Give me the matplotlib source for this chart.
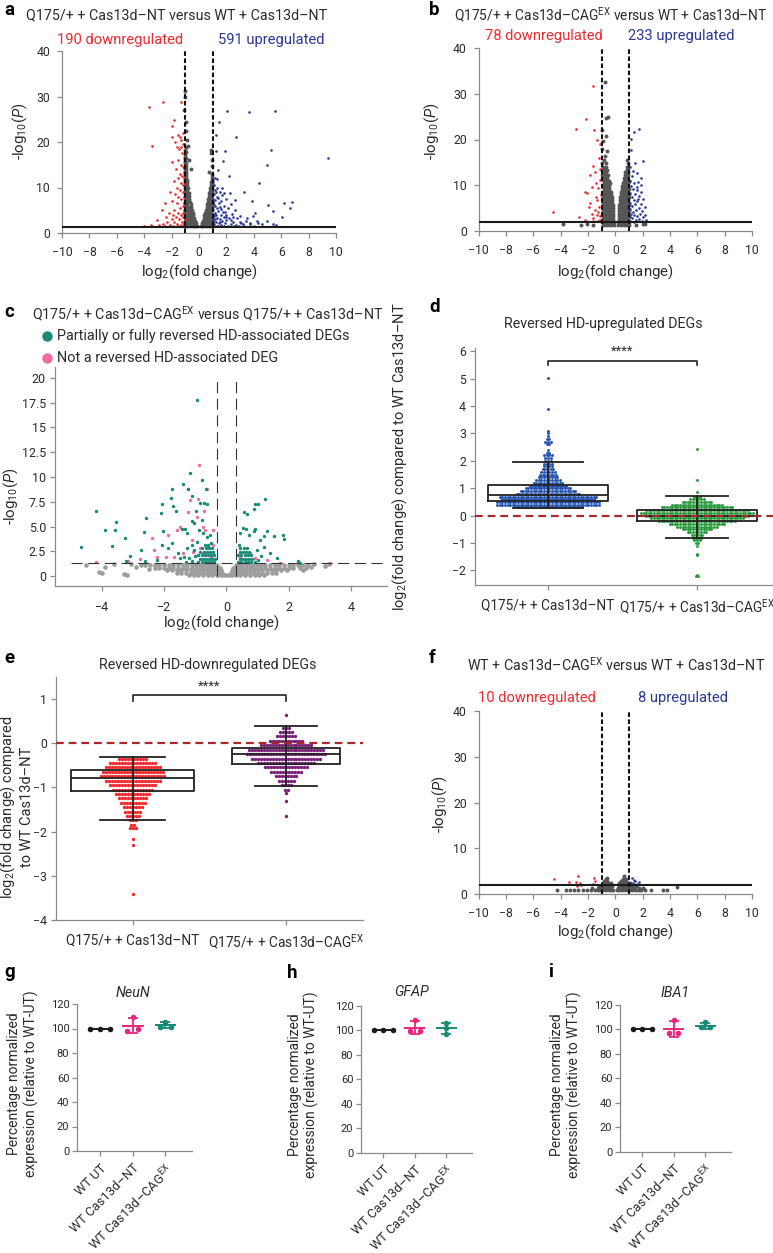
import numpy as np
import matplotlib
matplotlib.use('Agg')
import matplotlib.pyplot as plt
from matplotlib.lines import Line2D

plt.rcParams['font.family'] = ['Roboto', 'DejaVu Sans']
plt.rcParams['mathtext.fontset'] = 'custom'
plt.rcParams['mathtext.rm'] = 'Roboto'
plt.rcParams['mathtext.it'] = 'Roboto:italic'
plt.rcParams['mathtext.bf'] = 'Roboto:bold'

# ---------------- data ----------------
# panel a: Q175/+ NT vs WT NT  (x = log2 FC, y = -log10 P)
down_a = [(-3.62, 27.7), (-2.62, 28.7), (-3.42, 19.2), (-1.35, 28.7), (-1.84, 24.9), (-1.99, 23.5),
          (-2.0, 21.1), (-1.5, 21.5), (-1.3, 20.5), (-1.2, 22.0), (-1.75, 20.0), (-1.6, 19.0),
          (-1.45, 18.5), (-1.25, 17.5), (-1.15, 19.5), (-1.94, 15.6), (-1.55, 16.0), (-1.35, 15.0),
          (-1.2, 14.5), (-1.1, 16.5), (-1.7, 14.0), (-1.4, 13.0), (-1.25, 12.5), (-1.12, 13.5),
          (-1.5, 12.0), (-1.85, 11.5), (-1.3, 11.0), (-1.15, 10.5), (-1.6, 10.0), (-1.4, 9.5),
          (-1.2, 9.0), (-2.1, 9.0), (-1.75, 8.5), (-1.5, 8.0), (-1.1, 8.0), (-1.3, 7.5), (-1.95, 7.0),
          (-2.5, 6.5), (-1.6, 6.5), (-1.2, 6.0), (-1.4, 5.5), (-2.67, 5.0), (-1.8, 5.0), (-1.1, 5.0),
          (-2.2, 4.5), (-1.5, 4.5), (-1.3, 4.0), (-1.9, 4.0), (-1.15, 3.5), (-2.4, 3.5), (-1.65, 3.5),
          (-3.1, 2.9), (-2.0, 3.0), (-1.45, 3.0), (-1.25, 2.5), (-2.3, 2.5), (-1.8, 2.5), (-3.47, 1.8),
          (-4.03, 1.6), (-2.9, 1.8), (-2.6, 2.0), (-2.1, 1.8), (-1.6, 2.0), (-1.35, 1.8), (-1.1, 2.0),
          (-1.9, 1.6), (-1.5, 1.5), (-2.5, 1.5), (-1.2, 1.5), (-1.05, 3.0), (-1.08, 6.5), (-1.05, 11.0),
          (-1.1, 12.0), (-1.3, 19.0), (-1.4, 21.0), (-1.18, 4.5)]
up_a = [(2.01, 26.8), (3.64, 26.5), (5.57, 26.8), (1.45, 24.3), (1.23, 21.6), (2.69, 21.1), (5.23, 18.2),
        (1.89, 18.1), (1.21, 18.0), (9.44, 16.5), (4.93, 14.9), (1.72, 15.8), (1.38, 13.8), (2.16, 12.5),
        (4.4, 11.0), (3.3, 9.0), (3.84, 7.1), (6.22, 6.7), (6.78, 6.9), (6.64, 5.6), (5.0, 6.2),
        (5.37, 4.75), (6.03, 3.5), (4.97, 2.6), (5.4, 2.0), (5.6, 1.7), (4.2, 2.7), (3.95, 3.7),
        (3.7, 2.2), (3.5, 3.2), (3.2, 2.0), (1.1, 10.5), (1.3, 10.0), (1.2, 9.5), (1.5, 9.0), (1.1, 8.5),
        (1.7, 8.3), (1.35, 8.0), (2.0, 7.5), (1.2, 7.2), (1.6, 7.0), (1.05, 6.8), (1.45, 6.5), (2.3, 6.3),
        (1.8, 6.0), (1.15, 6.0), (1.3, 5.6), (2.1, 5.5), (1.6, 5.2), (1.05, 5.0), (2.6, 5.0), (1.4, 4.8),
        (1.9, 4.6), (1.2, 4.4), (2.4, 4.2), (1.6, 4.0), (1.1, 3.8), (3.0, 3.8), (1.8, 3.6), (1.35, 3.4),
        (2.2, 3.3), (2.8, 3.2), (1.5, 3.0), (1.05, 2.9), (2.0, 2.8), (3.4, 2.7), (1.7, 2.6), (1.25, 2.5),
        (2.5, 2.4), (1.9, 2.2), (1.45, 2.1), (3.1, 2.1), (1.1, 2.0), (2.3, 1.9), (3.7, 1.9), (1.6, 1.8),
        (2.7, 1.7), (1.3, 1.6), (2.1, 1.6), (4.0, 1.6), (1.8, 1.5), (2.9, 1.5), (4.3, 2.2), (4.1, 4.4),
        (4.6, 2.0), (1.4, 7.6), (1.25, 9.0), (1.7, 10.0), (1.2, 3.1), (1.55, 5.8), (2.0, 4.0),
        (1.15, 12.0), (1.05, 11.2), (1.3, 11.8), (2.25, 8.8), (2.6, 7.2), (2.45, 3.6), (1.75, 4.6),
        (1.0, 4.2), (1.0, 7.5), (1.4, 1.5), (2.55, 1.5), (1.95, 3.5), (2.35, 2.8), (1.55, 2.4),
        (1.25, 4.0), (1.85, 8.9), (3.3, 1.6), (3.0, 2.5)]
# non-significant genes, one row per -log10 P level
ns_a_rows = [(1.5, [-1.05, -0.85, -0.65, -0.45, -0.28, -0.15, 0.15, 0.3, 0.5, 0.7, 0.88, 1.0]),
             (2.1, [-1.0, -0.8, -0.6, -0.4, -0.22, 0.22, 0.4, 0.6, 0.8, 0.97]),
             (2.7, [-1.05, -0.85, -0.65, -0.45, -0.28, 0.28, 0.45, 0.65, 0.85, 1.0]),
             (3.3, [-1.0, -0.8, -0.6, -0.35, 0.35, 0.55, 0.75, 0.95]),
             (3.9, [-1.05, -0.85, -0.65, -0.42, 0.4, 0.6, 0.8, 1.0]),
             (4.5, [-1.0, -0.8, -0.6, -0.45, 0.45, 0.65, 0.85]),
             (5.1, [-1.05, -0.85, -0.65, -0.5, 0.5, 0.7, 0.9]),
             (5.7, [-1.0, -0.8, -0.58, 0.55, 0.75, 0.95]),
             (6.3, [-1.05, -0.85, -0.62, 0.6, 0.8, 1.0]),
             (6.9, [-1.0, -0.8, -0.66, 0.65, 0.85]),
             (7.5, [-1.05, -0.85, -0.7, 0.68, 0.88]),
             (8.1, [-1.0, -0.85, -0.72, 0.72, 0.9]),
             (8.7, [-1.05, -0.9, -0.76, 0.75, 0.95]),
             (9.3, [-1.0, -0.85, 0.78, 0.95]),
             (9.9, [-1.05, -0.9, -0.8, 0.82, 0.97]),
             (10.5, [-1.0, -0.85, 0.85, 0.98]),
             (11.1, [-1.05, -0.9, 0.88]),
             (11.7, [-1.0, -0.88, 0.92]),
             (12.3, [-1.05, -0.92, 0.95]),
             (12.9, [-1.0, -0.93, 0.93]),
             (13.5, [-1.02, -0.95]),
             (14.1, [-1.0, -0.95]),
             (14.7, [-0.98]),
             (15.3, [-1.02, -0.95]),
             (15.9, [-1.0]),
             (16.5, [-0.97]),
             (17.1, [-1.0]),
             (17.7, [-0.98]),
             (18.3, [-1.02]),
             (19.0, [-0.96])]
ns_a_extra = [(-0.99, 31.2), (-1.04, 29.9), (-1.06, 27.0), (-0.95, 24.5), (-0.92, 22.5), (-0.88, 20.5),
              (-0.8, 19.2), (-0.72, 16.0), (-0.6, 14.0), (0.84, 17.5), (0.9, 18.2), (0.95, 16.0),
              (0.7, 13.5), (0.98, 14.8)]

# panel b: Q175/+ CAG-EX vs WT NT
down_b = [(-1.66, 31.8), (-2.17, 24.5), (-2.9, 22.3), (-1.56, 22.0), (-1.32, 19.8), (-1.12, 19.0),
          (-1.66, 14.3), (-1.49, 12.8), (-1.85, 12.3), (-2.1, 8.2), (-2.2, 8.6), (-1.73, 9.7),
          (-1.85, 6.1), (-1.32, 6.8), (-1.17, 5.3), (-1.49, 4.6), (-4.54, 4.1), (-2.66, 3.0),
          (-2.22, 2.4), (-1.61, 2.8), (-1.32, 3.5), (-1.12, 11.2), (-1.24, 9.3), (-1.41, 7.5),
          (-1.1, 2.4), (-1.6, 2.1), (-1.25, 4.2), (-1.05, 7.8), (-1.15, 13.5), (-1.4, 10.5),
          (-1.95, 5.2), (-1.3, 2.2), (-1.1, 3.3), (-1.7, 3.8), (-1.2, 16.0)]
up_b = [(1.71, 22.3), (1.34, 21.6), (1.12, 20.1), (1.17, 17.7), (2.0, 15.2), (1.44, 14.8), (1.1, 14.0),
        (1.3, 13.2), (1.56, 12.6), (1.2, 12.0), (1.85, 10.1), (1.05, 11.0), (1.4, 10.5), (1.65, 10.8),
        (1.15, 9.8), (1.3, 9.2), (1.6, 9.0), (1.9, 8.6), (1.05, 8.4), (1.45, 8.0), (1.75, 7.6),
        (1.2, 7.4), (2.05, 7.0), (1.35, 6.8), (1.6, 6.5), (1.1, 6.2), (1.85, 6.0), (1.45, 5.8),
        (1.25, 5.4), (2.15, 5.2), (1.7, 5.0), (1.05, 4.8), (1.5, 4.6), (1.95, 4.4), (1.3, 4.2),
        (1.15, 3.8), (1.8, 3.8), (2.2, 3.6), (1.4, 3.4), (1.6, 3.2), (1.05, 3.0), (2.0, 3.0),
        (1.25, 2.8), (1.75, 2.6), (1.5, 2.4), (1.1, 2.2), (1.95, 2.2), (1.35, 2.0), (2.25, 2.5),
        (1.65, 7.0), (1.0, 5.6), (1.55, 9.6), (1.9, 11.5)]
ns_b_rows = [(1.4, [-0.9, -0.7, -0.5, -0.3, -0.12, 0.22, 0.4, 0.6, 0.8, 1.0]),
             (2.0, [-0.88, -0.68, -0.48, -0.28, -0.13, 0.23, 0.42, 0.62, 0.82, 1.0]),
             (2.6, [-0.9, -0.7, -0.5, -0.3, -0.14, 0.24, 0.44, 0.64, 0.84]),
             (3.2, [-0.88, -0.68, -0.48, -0.28, -0.15, 0.25, 0.45, 0.65, 0.85, 1.0]),
             (3.8, [-0.9, -0.7, -0.5, -0.3, -0.16, 0.26, 0.46, 0.66, 0.86]),
             (4.4, [-0.88, -0.68, -0.48, -0.28, -0.17, 0.27, 0.47, 0.67, 0.87, 1.0]),
             (5.0, [-0.9, -0.7, -0.5, -0.3, -0.18, 0.28, 0.48, 0.68, 0.88]),
             (5.6, [-0.88, -0.68, -0.48, -0.28, -0.2, 0.3, 0.5, 0.7, 0.9, 1.0]),
             (6.2, [-0.9, -0.7, -0.5, -0.3, -0.21, 0.32, 0.52, 0.72, 0.92]),
             (6.8, [-0.86, -0.66, -0.46, -0.25, 0.34, 0.54, 0.74, 0.94]),
             (7.4, [-0.88, -0.68, -0.48, -0.28, 0.37, 0.57, 0.77, 0.97]),
             (8.0, [-0.86, -0.66, -0.46, -0.3, 0.4, 0.6, 0.8, 1.0]),
             (8.6, [-0.88, -0.68, -0.48, -0.32, 0.43, 0.63, 0.83]),
             (9.2, [-0.85, -0.65, -0.45, 0.46, 0.66, 0.86, 1.0]),
             (9.8, [-0.87, -0.67, -0.47, 0.5, 0.7, 0.9]),
             (10.4, [-0.84, -0.64, -0.42, 0.55, 0.75, 0.95]),
             (11.0, [-0.86, -0.66, -0.45, 0.6, 0.8, 1.0]),
             (11.6, [-0.8, -0.6, 0.65, 0.85]),
             (12.2, [-0.95, -0.75, -0.55, 0.7, 0.9]),
             (12.8, [-0.9, -0.7, 0.8, 0.95]),
             (13.4, [-0.95, -0.75, -0.6, 0.85]),
             (14.0, [-0.9, -0.7, 0.88]),
             (14.8, [-0.95, -0.72, 0.9]),
             (15.5, [-0.8])]
ns_b_extra = [(-0.77, 32.5), (-0.52, 25.0), (-0.65, 24.7), (-0.96, 22.0), (-0.7, 20.7), (-0.89, 19.6),
              (-0.77, 16.3), (-0.6, 17.5), (0.87, 15.5), (0.7, 13.0), (-3.8, 1.5), (-2.5, 1.3),
              (-2.1, 1.5), (-1.6, 1.4), (1.5, 1.4), (2.0, 1.6), (2.2, 1.5), (-0.95, 18.0), (0.95, 13.8)]

# panel c: Q175/+ CAG-EX vs Q175/+ NT
rev_c = [(-4.66, 2.96), (-4.19, 6.59), (-3.89, 4.64), (-3.57, 4.64), (-3.54, 5.48), (-3.66, 3.06),
         (-3.25, 3.87), (-3.09, 2.02), (-3.22, 1.55), (-2.59, 5.82), (-2.66, 4.47), (-2.74, 2.62),
         (-2.61, 1.55), (-2.24, 1.61), (-2.07, 7.26), (-2.10, 6.39), (-2.02, 4.57), (-2.07, 3.13),
         (-1.86, 2.79), (-1.75, 3.36), (-1.78, 7.90), (-1.75, 8.74), (-1.70, 7.06), (-1.63, 6.55),
         (-1.40, 9.34), (-1.17, 10.42), (-1.22, 8.74), (-1.09, 8.10), (-0.97, 6.59), (-0.80, 9.68),
         (-0.65, 8.74), (-0.95, 17.82), (-0.84, 7.33), (-0.72, 7.33), (-0.61, 7.26), (-1.43, 4.71),
         (-1.33, 4.77), (-1.27, 4.30), (-1.11, 5.58), (-1.03, 5.31), (-0.89, 4.64), (-0.79, 5.65),
         (-0.74, 4.30), (-0.63, 3.97), (-0.52, 4.13), (-1.54, 2.29), (-1.27, 2.79), (-1.11, 3.13),
         (-0.95, 3.46), (-1.49, 1.78), (-1.36, 1.95),
         (-0.9, 1.4), (-0.8, 1.4), (-0.7, 1.4), (-0.6, 1.4), (-0.5, 1.4), (-0.4, 1.4),
         (-0.85, 1.75), (-0.75, 1.75), (-0.65, 1.75), (-0.55, 1.75), (-0.45, 1.75), (-0.37, 1.75),
         (-0.9, 2.1), (-0.8, 2.1), (-0.7, 2.1), (-0.6, 2.1), (-0.5, 2.1), (-0.4, 2.1),
         (-0.85, 2.45), (-0.72, 2.45), (-0.62, 2.45), (-0.52, 2.45), (-0.42, 2.45),
         (-0.78, 2.8), (-0.66, 2.8), (-0.55, 2.8), (-0.45, 2.8), (-0.7, 3.15), (-0.58, 3.15),
         (-0.48, 3.3), (-1.1, 1.5), (-1.2, 1.8), (-1.0, 2.0), (-1.3, 1.45), (-1.05, 2.6),
         (0.38, 1.4), (0.48, 1.4), (0.58, 1.4), (0.68, 1.4), (0.78, 1.4), (0.9, 1.45),
         (0.42, 1.75), (0.52, 1.75), (0.62, 1.75), (0.72, 1.75), (0.82, 1.75),
         (0.38, 2.1), (0.48, 2.1), (0.58, 2.1), (0.68, 2.1), (0.8, 2.1),
         (0.42, 2.45), (0.52, 2.45), (0.62, 2.45), (0.72, 2.45), (0.45, 2.8), (0.56, 2.8),
         (0.66, 2.8), (0.4, 3.1), (1.0, 1.6), (1.1, 2.0),
         (1.24, 7.76), (0.92, 7.26), (1.01, 7.26), (0.87, 6.72), (0.57, 6.42), (0.67, 6.25),
         (0.52, 4.87), (0.63, 4.77), (0.87, 4.54), (0.93, 4.71), (1.29, 4.54), (1.19, 4.07),
         (1.51, 4.07), (1.81, 4.13), (1.85, 3.70), (1.19, 2.89), (2.29, 1.55), (2.36, 1.28),
         (1.08, 3.63), (0.71, 4.13), (0.44, 4.30), (1.61, 1.78), (1.40, 2.29), (0.97, 2.62)]
notrev_c = [(-0.87, 11.19), (-0.90, 7.73), (-0.63, 8.81), (-1.24, 8.74), (-0.72, 6.55), (-1.22, 6.49),
            (-0.74, 4.91), (-0.68, 4.64), (-1.49, 4.97), (-1.59, 4.64), (-2.40, 3.80), (-2.34, 2.62),
            (-2.24, 1.95), (-1.95, 1.88), (-1.68, 1.88), (-2.77, 1.68), (-3.17, 1.55), (-4.19, 1.45),
            (1.72, 1.28), (3.33, 1.28), (-0.84, 2.79), (-0.58, 2.96), (-0.42, 3.13), (-0.74, 2.29),
            (-1.06, 2.45), (-0.49, 1.95), (-1.11, 3.63), (0.76, 2.29), (0.92, 1.78), (1.29, 1.61),
            (0.44, 1.95), (-1.86, 4.13), (-1.17, 7.66), (-0.95, 5.98), (-0.42, 4.64), (-1.4, 2.3)]
ns_c_rows = [(0.08, [-1.2, -1.05, -0.9, -0.75, -0.6, -0.45, -0.3, -0.18, -0.08, 0.0, 0.08, 0.18, 0.3,
                     0.45, 0.6, 0.75, 0.9, 1.05, 1.2]),
             (0.35, [-1.6, -1.45, -1.3, -1.15, -1.0, -0.88, -0.76, -0.64, -0.52, -0.4, -0.28, -0.14,
                     0.14, 0.28, 0.4, 0.52, 0.64, 0.76, 0.88, 1.0, 1.15, 1.3, 1.45, 1.6]),
             (0.6, [-1.9, -1.75, -1.6, -1.45, -1.3, -1.15, -1.0, -0.88, -0.76, -0.64, -0.52, -0.4,
                    -0.28, -0.18, 0.18, 0.28, 0.4, 0.52, 0.64, 0.76, 0.88, 1.0, 1.15, 1.3, 1.45,
                    1.6, 1.75, 1.95]),
             (0.85, [-2.3, -2.15, -2.0, -1.85, -1.7, -1.55, -1.4, -1.25, -1.1, -0.98, -0.86, -0.74,
                     -0.62, -0.5, -0.4, -0.3, -0.22, 0.22, 0.3, 0.4, 0.5, 0.62, 0.74, 0.86, 0.98,
                     1.1, 1.25, 1.4, 1.55, 1.7, 1.85, 2.0, 2.15, 2.35]),
             (1.1, [-2.6, -2.45, -2.3, -2.15, -2.0, -1.85, -1.7, -1.55, -1.4, -1.25, -1.1, -0.98,
                    -0.86, -0.74, -0.62, -0.5, -0.4, -0.3, 0.3, 0.4, 0.5, 0.62, 0.74, 0.86, 0.98,
                    1.1, 1.25, 1.4, 1.55, 1.7, 1.85, 2.0, 2.15, 2.3, 2.45, 2.6])]
ns_c_extra = [(-4.5, 1.15), (-4.1, 0.4), (-4.0, 0.3), (-3.9, 0.9), (-3.3, 0.25), (-3.2, 0.15),
              (-3.05, 1.2), (-2.9, 0.9), (-2.75, 1.15), (-2.5, 0.7), (2.45, 0.6), (2.55, 0.8),
              (2.7, 0.95), (2.8, 1.2), (3.15, 1.0), (3.3, 1.2), (-3.6, 1.2)]

# panel d: reversed HD-upregulated DEGs (log2 FC levels and number of genes at each level)
d_nt_levels = [0.3, 0.4, 0.5, 0.6, 0.7, 0.8, 0.9, 1.0, 1.1, 1.2, 1.3, 1.4, 1.5, 1.6, 1.7, 1.8, 1.9,
               2.0, 2.1, 2.2, 2.3, 2.4, 2.6, 2.7, 2.8, 2.9, 3.0, 3.1, 3.9, 5.02]
d_nt_counts = [27, 40, 40, 36, 38, 25, 22, 18, 15, 12, 10, 8, 7, 6, 5, 4, 4, 3, 3, 4, 2, 1, 2, 3,
               2, 1, 1, 1, 1, 1]
d_ex_levels = [2.42, 1.3, 0.87, 0.7, 0.6, 0.5, 0.4, 0.3, 0.2, 0.1, 0.0, -0.1, -0.2, -0.3, -0.4,
               -0.5, -0.6, -0.7, -0.8, -0.9, -1.0, -1.1, -1.4, -1.45, -2.15, -2.2]
d_ex_counts = [1, 1, 1, 3, 6, 12, 20, 28, 40, 44, 40, 36, 30, 22, 16, 12, 8, 5, 4, 3, 2, 1, 1, 1, 1, 2]
d_box = dict(q1=[0.53, -0.20], med=[0.75, -0.01], q3=[1.12, 0.20], lo=[0.27, -0.82], hi=[1.96, 0.72])

# panel e: reversed HD-downregulated DEGs
e_nt_levels = [-0.35, -0.45, -0.55, -0.65, -0.75, -0.85, -0.95, -1.05, -1.15, -1.25, -1.35, -1.45,
               -1.55, -1.65, -1.75, -1.85, -1.93, -2.18, -2.3, -3.42]
e_nt_counts = [10, 16, 19, 21, 22, 19, 16, 14, 12, 10, 9, 7, 6, 5, 3, 2, 3, 1, 1, 1]
e_ex_levels = [0.63, 0.35, 0.25, 0.15, 0.05, -0.05, -0.15, -0.25, -0.35, -0.45, -0.55, -0.65,
               -0.75, -0.85, -0.95, -1.05, -1.12, -1.3, -1.65]
e_ex_counts = [1, 3, 5, 7, 12, 18, 26, 27, 24, 20, 15, 11, 8, 6, 4, 2, 1, 1, 1]
e_box = dict(q1=[-1.09, -0.466], med=[-0.80, -0.24], q3=[-0.62, -0.105], lo=[-1.73, -0.97], hi=[-0.32, 0.38])

# panel f: WT CAG-EX vs WT NT
down_f = [(-4.49, 3.42), (-3.40, 2.62), (-2.72, 4.07), (-2.89, 2.76), (-2.6, 2.55), (-2.55, 2.04),
          (-1.57, 3.64), (-1.5, 2.98), (-1.62, 2.25), (-2.79, 1.82)]
up_f = [(1.25, 3.49), (1.42, 2.98), (1.74, 2.76), (1.55, 2.25), (1.3, 2.55), (1.1, 2.4), (1.6, 2.1),
        (1.35, 3.2)]
ns_f_rows = [(0.9, [-4.3, -3.6, -3.3, -3.0, -2.7, -2.4, -2.1, -1.8, -1.5, -1.3, -1.1, -0.9, -0.7, -0.5,
                    -0.3, -0.15, 0.15, 0.3, 0.5, 0.7, 0.9, 1.1, 1.3, 1.5, 1.7, 1.9, 2.2, 2.6, 3.5, 3.8]),
             (1.4, [-1.7, -1.3, -1.1, -0.9, -0.7, -0.5, -0.3, 0.2, 0.4, 0.6, 0.8, 1.0, 1.2, 1.4, 1.7, 2.0]),
             (1.9, [-1.2, -1.0, -0.8, -0.6, -0.4, -0.25, 0.25, 0.45, 0.65, 0.85, 1.05, 1.25, 1.5]),
             (2.4, [-0.9, -0.7, -0.5, -0.35, 0.3, 0.5, 0.7, 0.9, 1.1]),
             (2.9, [-0.8, -0.6, 0.4, 0.6, 0.8]),
             (3.4, [-0.65, 0.55, 0.75])]
ns_f_extra = [(4.5, 1.6), (-0.6, 3.6), (0.6, 3.9)]

# panels g-i: qPCR, percentage normalized expression
qpcr_groups = ['WT UT', 'WT Cas13d–NT', 'WT Cas13d–CAG$^{\\mathrm{EX}}$']
neun = [[100, 100, 100], [97.6, 109.0, 99.7], [101.6, 105.4, 101.6]]
gfap = [[100, 100, 100], [99.2, 108.0, 99.2], [97.2, 106.0, 101.7]]
iba1 = [[100, 100, 100], [96.7, 108.0, 96.7], [101.7, 105.8, 101.7]]

# ---------------- styling ----------------
RED = '#ee2a2e'
BLUE = '#2a3896'
GRAY_D = '#565656'
GRAY_L = '#9d9d9d'
TEAL = '#178a78'
PINK = '#ee6c9e'
BLUE_SW = '#2553b0'
GREEN_SW = '#2a9a3c'
PURPLE = '#7a2078'
DRED = '#a8282c'
PINK_G = '#e8257c'
AX_C = '#8a8a8a'
TXT = '#2b2b2b'
FS = 10.3      # titles / labels
FT = 8.8       # tick labels

W, H = 773, 1253
fig = plt.figure(figsize=(W / 100, H / 100), dpi=100)


def rect(l, t, r, b):
    return [l / W, 1 - b / H, (r - l) / W, (b - t) / H]


def ftext(px, py, s, **kw):
    kw.setdefault('va', 'center')
    kw.setdefault('color', TXT)
    fig.text(px / W, 1 - py / H, s, **kw)


def letter(px, py, s):
    ftext(px, py, s, fontsize=13.5, fontweight='bold', color='black')


def style(ax, xpad=7, ypad=4, fs=FT):
    for s in ['top', 'right']:
        ax.spines[s].set_visible(False)
    for s in ['left', 'bottom']:
        ax.spines[s].set_color(AX_C)
        ax.spines[s].set_linewidth(0.9)
    ax.tick_params(axis='both', colors=AX_C, labelcolor=TXT, labelsize=fs, length=3.5, width=0.9)
    ax.tick_params(axis='x', pad=xpad)
    ax.tick_params(axis='y', pad=ypad)


def labels(ax, xl, yl, xc, yc, fs=FS):
    if xl is not None:
        ax.set_xlabel(xl, fontsize=fs, color=TXT)
        ax.xaxis.set_label_coords(*xc)
        ax.xaxis.label.set_va('center')
    ax.set_ylabel(yl, fontsize=fs, color=TXT)
    ax.yaxis.set_label_coords(*yc)
    ax.yaxis.label.set_va('center')


def rows_to_xy(rows, extra):
    pts = [(x, y) for y, xs in rows for x in xs] + list(extra)
    return np.array(pts).T


def volcano(ax, ns_rows, ns_extra, down, up, thr):
    nx, ny = rows_to_xy(ns_rows, ns_extra)
    ax.scatter(nx, ny, s=8, color=GRAY_D, lw=0, zorder=2)
    dx, dy = np.array(down).T
    ax.scatter(dx, dy, s=3.5, color=RED, lw=0, zorder=3)
    ux, uy = np.array(up).T
    ax.scatter(ux, uy, s=3.5, color=BLUE, lw=0, zorder=3)
    ax.axhline(thr, color='#1a1a1a', lw=1.5, zorder=4)
    for v in (-1, 1):
        ax.axvline(v, color='#111111', lw=1.5, ls=(0, (2.2, 1.2)), zorder=4)
    ax.set_xlim(-10, 10)
    ax.set_ylim(0, 40)
    ax.set_xticks(range(-10, 11, 2))
    ax.set_yticks(range(0, 41, 10))
    style(ax, xpad=6, ypad=5)


def swarm(levels, counts, center, step):
    xs, ys = [], []
    for v, n in zip(levels, counts):
        off = (np.arange(n) - (n - 1) / 2) * step
        xs.extend(center + off)
        ys.extend([v] * n)
    return np.array(xs), np.array(ys)


def boxes(ax, box, widths, capwidths):
    stats = [dict(med=box['med'][i], q1=box['q1'][i], q3=box['q3'][i],
                  whislo=box['lo'][i], whishi=box['hi'][i]) for i in range(2)]
    lp = dict(color='#222222', lw=1.3)
    ax.bxp(stats, positions=[0, 1], widths=widths, capwidths=capwidths, showfliers=False,
           boxprops=lp, medianprops=lp, whiskerprops=lp, capprops=lp, manage_ticks=False, zorder=5)
    ax.vlines([0, 1], box['q1'], box['q3'], color='#222222', lw=1.3, zorder=5)
    ax.axhline(0, color=DRED, lw=1.6, ls=(0, (3.5, 2.2)), zorder=6)


def bracket(ax, y, ytick, ytxt):
    ax.plot([0, 0, 1, 1], [ytick, y, y, ytick], color='#222222', lw=1.2)
    ax.text(0.5, ytxt, '****', ha='center', va='center', fontsize=9.5, color=TXT)


VLAB = '-log$_{10}$($\\mathit{P}$)'
XLAB = 'log$_2$(fold change)'
CAG = 'Cas13d–CAG$^{\\mathrm{EX}}$'

# ---------------- panel a ----------------
ax_a = fig.add_axes(rect(62, 51, 336, 233))
volcano(ax_a, ns_a_rows, ns_a_extra, down_a, up_a, 1.3)
labels(ax_a, XLAB, VLAB, (0.5, -0.214), (-0.153, 0.56), fs=10.8)
letter(4, 10, 'a')
ftext(177, 15, 'Q175/+ + Cas13d–NT versus WT + Cas13d–NT', ha='center', fontsize=FS)
ftext(57, 40, '190 downregulated', color=RED, fontsize=10.6)
ftext(218, 40, '591 upregulated', color=BLUE, fontsize=10.6)

# ---------------- panel b ----------------
ax_b = fig.add_axes(rect(478.7, 48, 752, 231))
volcano(ax_b, ns_b_rows, ns_b_extra, down_b, up_b, 2.0)
labels(ax_b, XLAB, VLAB, (0.5, -0.224), (-0.172, 0.546), fs=10.8)
letter(429, 10, 'b')
ftext(768, 15, 'Q175/+ + ' + CAG + ' versus WT + Cas13d–NT', ha='right', fontsize=9.9)
ftext(485, 36, '78 downregulated', color=RED, fontsize=10.6)
ftext(628, 36, '233 upregulated', color=BLUE, fontsize=10.6)

# ---------------- panel c ----------------
ax_c = fig.add_axes(rect(55, 367, 387, 586))
cx, cy = rows_to_xy(ns_c_rows, ns_c_extra)
ax_c.scatter(cx, cy, s=11, color=GRAY_L, lw=0, zorder=2)
px_, py_ = np.array(notrev_c).T
ax_c.scatter(px_, py_, s=6, color=PINK, lw=0, zorder=3)
tx, ty = np.array(rev_c).T
ax_c.scatter(tx, ty, s=6, color=TEAL, lw=0, zorder=4)
ax_c.plot([-5.0, 5.15], [1.3, 1.3], color='#333333', lw=0.8, ls=(0, (10, 5)), zorder=5)
for v in (-0.3, 0.32):
    ax_c.plot([v, v], [0, 20], color='#333333', lw=0.8, ls=(0, (10, 5)), zorder=5)
ax_c.set_xlim(-5.5, 5.15)
ax_c.set_ylim(-1.0, 21.1)
ax_c.set_xticks([-4, -2, 0, 2, 4])
ax_c.set_yticks([0, 2.5, 5, 7.5, 10, 12.5, 15, 17.5, 20])
ax_c.set_yticklabels(['0', '2.5', '5.0', '7.5', '10', '12.5', '15', '17.5', '20'])
style(ax_c, xpad=7, ypad=3, fs=9)
labels(ax_c, XLAB, VLAB, (0.5, -0.165), (-0.133, 0.41), fs=10.8)
letter(4, 312, 'c')
ftext(32, 314, 'Q175/+ + ' + CAG + ' versus Q175/+ + Cas13d–NT', fontsize=FS)
for yy, col, lab in [(336, TEAL, 'Partially or fully reversed HD-associated DEGs'),
                     (358, PINK, 'Not a reversed HD-associated DEG')]:
    fig.add_artist(Line2D([47 / W], [1 - yy / H], marker='o', ms=6.5, color=col, ls='',
                          transform=fig.transFigure))
    ftext(57, yy, lab, fontsize=10.4)

# ---------------- panel d ----------------
ax_d = fig.add_axes(rect(475, 348, 773, 585))
sx, sy = swarm(d_nt_levels, d_nt_counts, 0, 0.0175)
ax_d.scatter(sx, sy, s=4.5, color=BLUE_SW, lw=0, zorder=3)
sx, sy = swarm(d_ex_levels, d_ex_counts, 1, 0.0175)
ax_d.scatter(sx, sy, s=4.5, color=GREEN_SW, lw=0, zorder=3)
boxes(ax_d, d_box, [0.8, 0.8], [0.47, 0.41])
bracket(ax_d, 5.66, 5.49, 6.02)
ax_d.set_xlim(-0.49, 1.51)
ax_d.set_ylim(-2.53, 6.12)
ax_d.set_yticks(range(-2, 7))
ax_d.set_xticks([0, 1])
ax_d.set_xticklabels(['Q175/+ + Cas13d–NT', 'Q175/+ + ' + CAG])
style(ax_d, xpad=6, ypad=3)
ax_d.tick_params(axis='x', labelsize=9.8)
labels(ax_d, None, 'log$_2$(fold change) compared to WT Cas13d–NT', None, (-0.252, 0.54), fs=10.5)
letter(429, 307, 'd')
ftext(603, 324, 'Reversed HD-upregulated DEGs', ha='center', fontsize=FS)

# ---------------- panel e ----------------
ax_e = fig.add_axes(rect(56, 676.7, 362.7, 920))
sx, sy = swarm(e_nt_levels, e_nt_counts, 0, 0.0195)
ax_e.scatter(sx, sy, s=6, color=RED, lw=0, zorder=3)
sx, sy = swarm(e_ex_levels, e_ex_counts, 1, 0.0195)
ax_e.scatter(sx, sy, s=6, color=PURPLE, lw=0, zorder=3)
boxes(ax_e, e_box, [0.8, 0.7], [0.42, 0.4])
bracket(ax_e, 1.09, 0.96, 1.28)
ax_e.set_xlim(-0.5, 1.5)
ax_e.set_ylim(-4.0, 1.5)
ax_e.set_yticks(range(-4, 2))
ax_e.set_xticks([0, 1])
ax_e.set_xticklabels(['Q175/+ + Cas13d–NT', 'Q175/+ + ' + CAG])
style(ax_e, xpad=6, ypad=3)
ax_e.tick_params(axis='x', labelsize=9.8)
labels(ax_e, None, 'log$_2$(fold change) compared\nto WT Cas13d–NT', None, (-0.13, 0.465), fs=10.5)
letter(4, 658, 'e')
ftext(208, 665, 'Reversed HD-downregulated DEGs', ha='center', fontsize=FS)

# ---------------- panel f ----------------
ax_f = fig.add_axes(rect(478.7, 711, 752, 894.3))
volcano(ax_f, ns_f_rows, ns_f_extra, down_f, up_f, 2.0)
labels(ax_f, XLAB, VLAB, (0.5, -0.206), (-0.142, 0.49), fs=10.8)
letter(429, 658, 'f')
ftext(616, 665, 'WT + ' + CAG + ' versus WT + Cas13d–NT', ha='center', fontsize=FS)
ftext(478, 698, '10 downregulated', color=RED, fontsize=10.6)
ftext(638, 698, '8 upregulated', color=BLUE, fontsize=10.6)

# ---------------- panels g-i ----------------
qcols = ['#1a1a1a', PINK_G, TEAL]
dot_offsets = {'NeuN': [[-0.3, 0, 0.3], [-0.16, 0, 0.16], [-0.16, 0, 0.16]],
               'GFAP': [[-0.3, 0, 0.3], [-0.16, 0, 0.16], [0, 0, 0]],
               'IBA1': [[-0.3, 0, 0.3], [-0.14, 0, 0.14], [-0.14, 0, 0.14]]}
q_panels = [('NeuN', neun, (77, 1004, 191.7, 1151), 'g', (4, 972), (133, 993), -0.47),
            ('GFAP', gfap, (361, 1005.7, 471.7, 1152.7), 'h', (287, 973), (412, 992), -0.52),
            ('IBA1', iba1, (620, 1005, 730.7, 1151.7), 'i', (549, 972), (675, 993), -0.49)]
for name, vals, r, let, lpos, tpos, ylx in q_panels:
    ax = fig.add_axes(rect(*r))
    for k, (v, c) in enumerate(zip(vals, qcols)):
        v = np.array(v, dtype=float)
        m, sd = v.mean(), v.std(ddof=1)
        ax.hlines(m, k - 0.33, k + 0.33, color=c, lw=1.4, zorder=3)
        if sd > 0:
            ax.errorbar(k, m, yerr=sd, fmt='none', ecolor=c, elinewidth=1.3, capsize=3.8,
                        capthick=1.3, zorder=3)
        ax.scatter(k + np.array(dot_offsets[name][k]), v, s=16, color=c, lw=0, zorder=4)
    ax.set_xlim(-0.7, 2.8)
    ax.set_ylim(0, 120)
    ax.set_yticks(range(0, 121, 20))
    ax.set_xticks([0, 1, 2])
    ax.set_xticklabels(qpcr_groups, rotation=45, ha='right', va='top', rotation_mode='anchor')
    style(ax, xpad=4, ypad=2, fs=8)
    ax.tick_params(axis='x', labelsize=9.3)
    labels(ax, None, 'Percentage normalized\nexpression (relative to WT-UT)', None, (ylx, 0.46), fs=10)
    letter(lpos[0], lpos[1], let)
    ftext(tpos[0], tpos[1], name, ha='center', fontsize=FS, style='italic')

fig.savefig('out.png', dpi=100, facecolor='white')
